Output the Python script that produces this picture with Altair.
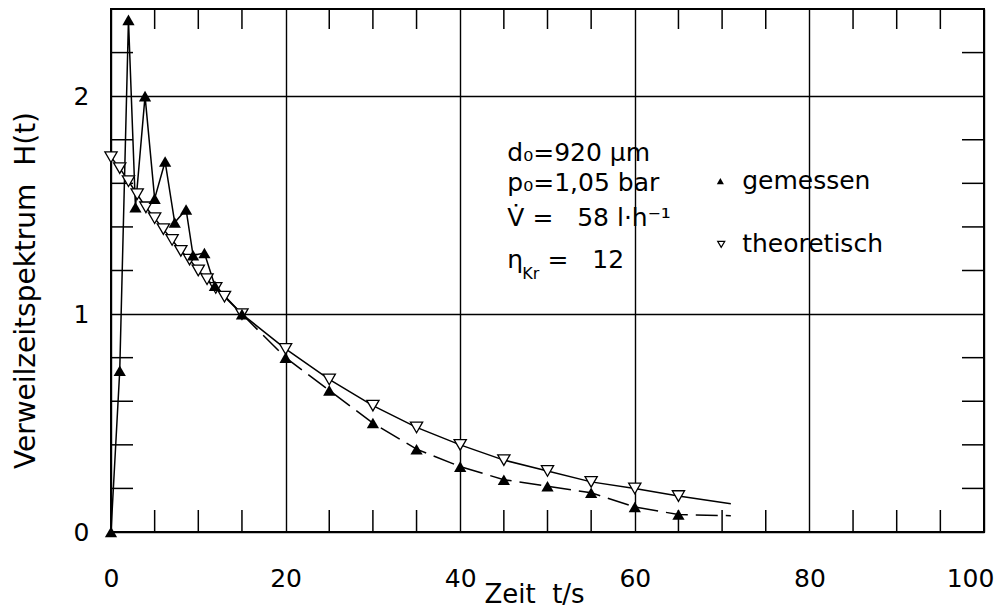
import altair as alt
import pandas as pd

# ---- data ----
meas_t = [0, 1.0, 2.0, 2.8, 3.9, 5.0, 6.2, 7.3, 8.6, 9.4, 10.7, 11.9, 15, 20, 25, 30, 35, 40, 45, 50, 55, 60, 65]
meas_h = [0, 0.74, 2.35, 1.49, 2.00, 1.53, 1.70, 1.42, 1.48, 1.27, 1.28, 1.13, 1.00, 0.80, 0.65, 0.50, 0.38, 0.30, 0.24, 0.21, 0.18, 0.115, 0.08]
meas_curve_end_t = [71]
meas_curve_end_h = [0.075]

theo_t = [0, 1, 2, 3, 4, 5, 6, 7, 8, 9, 10, 11, 12, 13, 15, 20, 25, 30, 35, 40, 45, 50, 55, 60, 65]
theo_h = [1.72, 1.67, 1.61, 1.55, 1.49, 1.44, 1.39, 1.34, 1.29, 1.25, 1.20, 1.16, 1.12, 1.08, 1.00, 0.84, 0.70, 0.58, 0.48, 0.40, 0.33, 0.28, 0.23, 0.20, 0.165]
theo_curve_end_t = [71]
theo_curve_end_h = [0.13]

x_labels = [0, 20, 40, 60, 80, 100]
y_labels = [0, 1, 2]
x_minor = [5, 10, 15, 25, 30, 35, 45, 50, 55, 65, 70, 75, 85, 90, 95]
y_minor = [0.2, 0.4, 0.6, 0.8, 1.2, 1.4, 1.6, 1.8, 2.2]

FONT = "DejaVu Sans, sans-serif"
NB = "\u00a0"
W, H = 873, 523

df_meas = pd.DataFrame({"t": meas_t, "h": meas_h})
df_meas_early = df_meas[df_meas.t <= 15]
df_meas_late = pd.concat([df_meas[df_meas.t >= 15],
                          pd.DataFrame({"t": meas_curve_end_t, "h": meas_curve_end_h})])
df_theo = pd.DataFrame({"t": theo_t, "h": theo_h})
df_theo_line = pd.concat([df_theo, pd.DataFrame({"t": theo_curve_end_t, "h": theo_curve_end_h})])
df_xm = pd.DataFrame({"t": x_minor})
df_ym = pd.DataFrame({"h": y_minor})

xs = alt.Scale(domain=[0, 100], nice=False, zero=False)
ys = alt.Scale(domain=[0, 2.4], nice=False, zero=False)

X = alt.X("t:Q", scale=xs, axis=alt.Axis(
    values=x_labels, format="d", grid=True, gridColor="black", gridWidth=1.4, gridOpacity=1,
    ticks=False, tickSize=0, domain=False, labelFont=FONT, labelFontSize=25,
    labelColor="black", labelPadding=34, labelFlush=False,
    labelOffset={"condition": {"test": "datum.value === 100", "value": -14}, "value": 0},
    title="Zeit" + NB + NB + "t/s", titleFont=FONT, titleFontSize=26, titleFontWeight="normal",
    titleColor="black", titleX=423, titleY=70, titleAlign="center",
    titleBaseline="alphabetic"))
Y = alt.Y("h:Q", scale=ys, axis=alt.Axis(
    values=y_labels, format="d", grid=True, gridColor="black", gridWidth=1.4, gridOpacity=1,
    ticks=False, tickSize=0, domain=False, labelFont=FONT, labelFontSize=25,
    labelColor="black", labelPadding=22, labelFlush=False,
    title="Verweilzeitspektrum" + NB + NB + "H(t)", titleFont=FONT, titleFontSize=28,
    titleFontWeight="normal", titleColor="black", titleX=-77, titleY=281,
    titleAngle=270, titleAlign="center", titleBaseline="alphabetic"))

# inside tick marks on all four sides
tick_b = alt.Chart(df_xm).mark_rule(color="black", strokeWidth=1.5).encode(
    x=alt.X("t:Q", scale=xs), y=alt.value(H), y2=alt.value(H - 22))
tick_t = alt.Chart(df_xm).mark_rule(color="black", strokeWidth=1.5).encode(
    x=alt.X("t:Q", scale=xs), y=alt.value(0), y2=alt.value(20))
tick_l = alt.Chart(df_ym).mark_rule(color="black", strokeWidth=1.5).encode(
    y=alt.Y("h:Q", scale=ys), x=alt.value(0), x2=alt.value(22))
tick_r = alt.Chart(df_ym).mark_rule(color="black", strokeWidth=1.5).encode(
    y=alt.Y("h:Q", scale=ys), x=alt.value(W), x2=alt.value(W - 22))

theo_line = alt.Chart(df_theo_line).mark_line(color="black", strokeWidth=1.5).encode(
    x=X, y=Y, order="t:Q")
meas_line1 = alt.Chart(df_meas_early).mark_line(color="black", strokeWidth=1.5).encode(
    x=alt.X("t:Q", scale=xs), y=alt.Y("h:Q", scale=ys), order="t:Q")
meas_line2 = alt.Chart(df_meas_late).mark_line(color="black", strokeWidth=1.5,
                                               strokeDash=[22, 8]).encode(
    x=alt.X("t:Q", scale=xs), y=alt.Y("h:Q", scale=ys), order="t:Q")

theo_pts = alt.Chart(df_theo).mark_point(shape="triangle-down", filled=True, fill="white",
                                         stroke="black", strokeWidth=1.3, size=150,
                                         opacity=1).encode(
    x=alt.X("t:Q", scale=xs), y=alt.Y("h:Q", scale=ys))
meas_pts = alt.Chart(df_meas).mark_point(shape="triangle-up", filled=True, color="black",
                                         size=150, opacity=1).encode(
    x=alt.X("t:Q", scale=xs), y=alt.Y("h:Q", scale=ys))

base = alt.Chart(pd.DataFrame({"a": [0]}))


def txt(s, x, y, size=25, dx=0, dy=0):
    return base.mark_text(text=s, font=FONT, fontSize=size, align="left",
                          baseline="middle", color="black", dx=dx, dy=dy).encode(
        x=alt.datum(x, scale=xs), y=alt.datum(y, scale=ys))


ann = [
    txt("d₀=920" + NB + "µm", 45.4, 1.74),
    txt("p₀=1,05" + NB + "bar", 45.4, 1.60),
    txt("V̇" + NB + "=" + NB + NB + NB + "58" + NB + "l·h⁻¹", 45.4, 1.44),
    txt("η", 45.4, 1.25),
    txt("Kr", 45.4, 1.25, size=16, dx=15, dy=14),
    txt("=" + NB + NB + NB + "12", 50.0, 1.25),
    txt("gemessen", 72.3, 1.61),
    txt("theoretisch", 72.3, 1.32),
]
leg_m = base.mark_point(shape="triangle-up", filled=True, color="black", size=50,
                        opacity=1).encode(x=alt.datum(69.8, scale=xs), y=alt.datum(1.61, scale=ys))
leg_t = base.mark_point(shape="triangle-down", filled=True, fill="white", stroke="black",
                        strokeWidth=1.2, size=50, opacity=1).encode(
    x=alt.datum(69.9, scale=xs), y=alt.datum(1.32, scale=ys))

chart = alt.layer(theo_line, tick_b, tick_t, tick_l, tick_r, meas_line1, meas_line2,
                  theo_pts, meas_pts, leg_m, leg_t, *ann).properties(
    width=W, height=H,
    padding={"left": 103, "top": 1, "right": 10, "bottom": 76},
    autosize=alt.AutoSizeParams(type="none"),
    background="white",
).configure_view(stroke="black", strokeWidth=2)

chart.save("out.html", embed_options={"renderer": "svg", "actions": False})
